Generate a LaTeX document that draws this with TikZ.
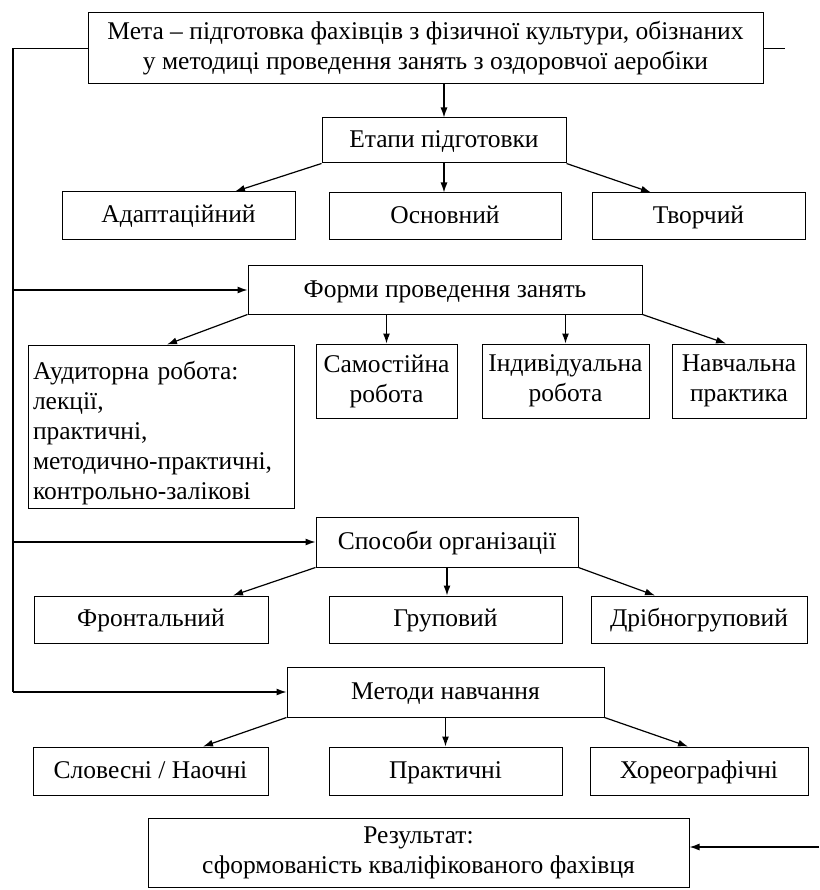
\documentclass[tikz,border=0pt]{standalone}
\usepackage{fontspec}
\setmainfont{Liberation Serif}
\usetikzlibrary{arrows.meta,calc}
\tikzset{
  box/.style={draw, line width=1pt, inner sep=0pt, align=center, font=\fontsize{25.5}{30}\selectfont},
  one/.style={box, text height=16pt, text depth=2pt},
  conn/.style={line width=1.2pt, -{Latex[length=10pt,width=7pt]}},
  plain/.style={line width=1.2pt}
}
\begin{document}
\begin{tikzpicture}[x=1pt,y=-1pt]
\useasboundingbox (0,0) rectangle (819,890);
% boxes
\node[box, minimum width=675pt, minimum height=71pt] (goal) at (425.5,48.5) {Мета – підготовка фахівців з фізичної культури, обізнаних\\у методиці проведення занять з оздоровчої аеробіки};
\node[one, minimum width=244pt, minimum height=45pt] (etapy) at (444,140.5) {Етапи підготовки};
\node[one, minimum width=233pt, minimum height=48pt] (adapt) at (178.5,216) {Адаптаційний};
\node[one, minimum width=232pt, minimum height=47pt] (osnov) at (445,216.5) {Основний};
\node[one, minimum width=213pt, minimum height=47pt] (tvorch) at (698.5,216.5) {Творчий};
\node[one, minimum width=394pt, minimum height=48pt] (formy) at (445,290) {Форми проведення занять};
\node[box, minimum width=266pt, minimum height=163pt, text width=256pt, align=left] (audyt) at (161,426.5) {\rule{0pt}{31pt}Аудиторна робота:\\лекції,\\практичні,\\методично-практичні,\\контрольно-залікові};
\node[box, minimum width=141pt, minimum height=74pt] (samost) at (386.5,381) {Самостійна\\робота};
\node[box, minimum width=167pt, minimum height=74pt] (indyv) at (565.5,381) {Індивідуальна\\робота};
\node[box, minimum width=134pt, minimum height=74pt] (navch) at (739,381) {Навчальна\\практика};
\node[one, minimum width=262pt, minimum height=50pt] (sposoby) at (447,542) {Способи організації};
\node[one, minimum width=234pt, minimum height=47pt] (front) at (151,619.5) {Фронтальний};
\node[one, minimum width=233pt, minimum height=47pt] (grup) at (445.5,619.5) {Груповий};
\node[one, minimum width=216pt, minimum height=47pt] (dribno) at (699,619.5) {Дрібногруповий};
\node[one, minimum width=317pt, minimum height=50pt] (metody) at (445.5,692) {Методи навчання};
\node[one, minimum width=235pt, minimum height=48pt] (slov) at (150.5,771) {Словесні / Наочні};
\node[one, minimum width=233pt, minimum height=48pt] (prakt) at (445.5,771) {Практичні};
\node[one, minimum width=218pt, minimum height=48pt] (horeo) at (699,771) {Хореографічні};
\node[box, minimum width=541pt, minimum height=69pt] (result) at (418.5,852.5) {Результат:\\сформованість кваліфікованого фахівця};
% helper coordinates
\coordinate (L) at (13,0);
\coordinate (R) at (785,0);
\coordinate (rin) at (819,847);
% left feedback line
\draw[plain] (goal.west) -- (goal.west -| L) -- (metody.west -| L);
\draw[conn] (metody.west -| L) -- (metody.west);
\draw[conn] (formy.west -| L) -- (formy.west);
\draw[conn] (sposoby.west -| L) -- (sposoby.west);
% right stubs
\draw[plain] (goal.east) -- (goal.east -| R);
\draw[conn] (rin) -- (rin -| result.east);
% goal -> etapy
\draw[conn] (etapy.north |- goal.south) -- (etapy.north);
% etapy -> children
\draw[conn] (etapy.south west) -- ($(adapt.north)+(56.5,0)$);
\draw[conn] (etapy.south) -- (etapy.south |- osnov.north);
\draw[conn] (etapy.south east) -- ($(tvorch.north)+(-47.5,0)$);
% formy -> children
\draw[conn] (formy.south west) -- ($(audyt.north)+(6,0)$);
\draw[conn] (samost.north |- formy.south) -- (samost.north);
\draw[conn] (indyv.north |- formy.south) -- (indyv.north);
\draw[conn] (formy.south east) -- ($(navch.north)+(-13,0)$);
% sposoby -> children
\draw[conn] (sposoby.south west) -- ($(front.north)+(82,0)$);
\draw[conn] (sposoby.south) -- (sposoby.south |- grup.north);
\draw[conn] (sposoby.south east) -- ($(dribno.north)+(-44,0)$);
% metody -> children
\draw[conn] (metody.south west) -- ($(slov.north)+(52.5,0)$);
\draw[conn] (metody.south) -- (metody.south |- prakt.north);
\draw[conn] (metody.south east) -- ($(horeo.north)+(-11,0)$);
\end{tikzpicture}
\end{document}
